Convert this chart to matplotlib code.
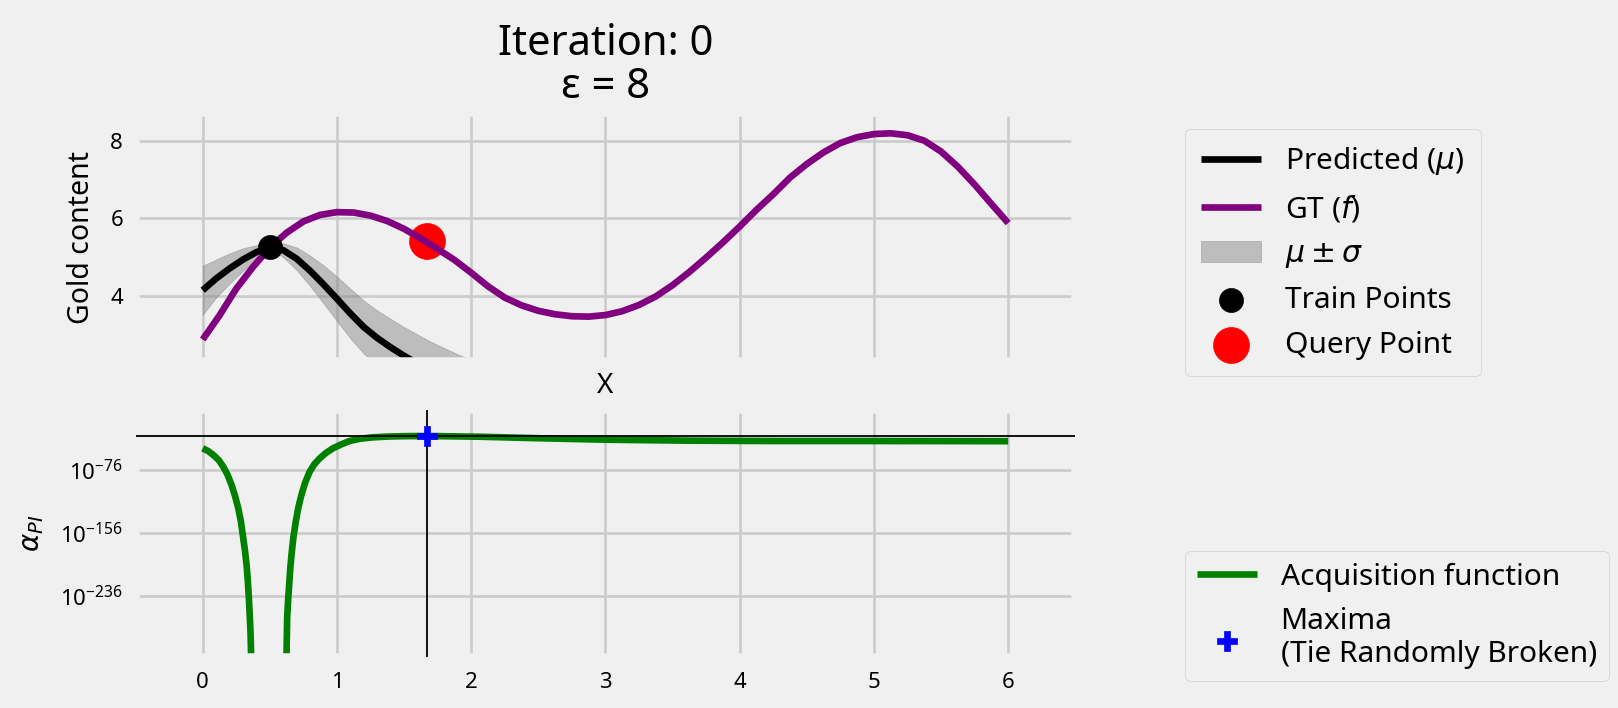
import numpy as np
import matplotlib.pyplot as plt
from matplotlib.ticker import NullLocator

plt.style.use('fivethirtyeight')
plt.rcParams['font.family'] = ['Noto Sans', 'DejaVu Sans']
plt.rcParams['axes.linewidth'] = 5.4
plt.rcParams['grid.linewidth'] = 1.9

gt_x = [0.0, 0.125, 0.25, 0.375, 0.5, 0.625, 0.75, 0.875, 1.0, 1.125, 1.25, 1.375, 1.5,
        1.625, 1.75, 1.875, 2.0, 2.125, 2.25, 2.375, 2.5, 2.625, 2.75, 2.875, 3.0, 3.125,
        3.25, 3.375, 3.5, 3.625, 3.75, 3.875, 4.0, 4.125, 4.25, 4.375, 4.5, 4.625, 4.75,
        4.875, 5.0, 5.125, 5.25, 5.375, 5.5, 5.625, 5.75, 5.875, 6.0]
gt_y = [2.88, 3.50, 4.19, 4.75, 5.25, 5.63, 5.92, 6.09, 6.16, 6.15, 6.07, 5.93, 5.73,
        5.48, 5.21, 4.93, 4.60, 4.25, 3.96, 3.76, 3.62, 3.53, 3.48, 3.47, 3.51, 3.61,
        3.77, 3.99, 4.28, 4.62, 4.99, 5.38, 5.79, 6.22, 6.62, 7.05, 7.40, 7.70, 7.94,
        8.09, 8.17, 8.19, 8.14, 8.00, 7.72, 7.33, 6.87, 6.37, 5.88]

# GP prediction (mu) and its standard deviation (sigma)
mu_x = [0.0, 0.1, 0.2, 0.3, 0.4, 0.5, 0.6, 0.7, 0.8, 0.9, 1.0, 1.1, 1.2, 1.3, 1.4, 1.5,
        1.6, 1.7, 1.8, 1.9, 2.0]
mu_y = [4.15, 4.45, 4.71, 4.94, 5.13, 5.25, 5.18, 4.96, 4.65, 4.30, 3.93, 3.55, 3.20,
        2.92, 2.68, 2.46, 2.26, 2.07, 1.90, 1.74, 1.60]
sigma = [0.63, 0.49, 0.39, 0.29, 0.18, 0.02, 0.18, 0.29, 0.39, 0.49, 0.57, 0.64, 0.68,
         0.71, 0.73, 0.74, 0.75, 0.75, 0.76, 0.76, 0.76]

train_x = [0.5]
train_y = [5.25]
query_x = [1.668]
query_y = [5.42]

# acquisition function (probability of improvement), 0 where it underflows
acq_x = [0.0, 0.04, 0.079, 0.12, 0.153, 0.185, 0.215, 0.24, 0.265, 0.285, 0.302, 0.315,
         0.327, 0.336, 0.344, 0.350, 0.356, 0.36, 0.37, 0.50, 0.615, 0.624, 0.629, 0.636,
         0.644, 0.652, 0.661, 0.676, 0.693, 0.712, 0.735, 0.763, 0.797, 0.83, 0.871, 0.92,
         0.97, 1.03, 1.094, 1.17, 1.267, 1.38, 1.515, 1.668, 2.06, 2.5, 3.0, 3.6, 4.29,
         5.0, 6.0]
acq_y = [4e-49, 1.6e-52, 1.3e-57, 3e-64, 1.6e-72, 1e-82, 8e-96, 3e-109, 1.6e-125, 1e-142,
         1e-163, 1e-179, 1e-197, 1e-217, 4e-240, 1e-260, 1.3e-282, 1e-308, 0.0, 0.0,
         0.0, 1e-313, 1e-265, 1e-242, 4e-223, 1e-202, 6e-185, 1e-161, 1.6e-142, 1e-124,
         1.6e-108, 1e-92, 8e-79, 1e-69, 6e-62, 1e-54, 4e-49, 3e-44, 8e-40, 6e-37, 4e-35,
         4e-34, 1.3e-33, 2e-33, 2.5e-34, 3e-36, 4e-38, 2.5e-39, 8e-40, 8e-40, 5e-40]
max_x = 1.668
max_y = 2e-33

fig = plt.figure(figsize=(16.18, 7.08), dpi=100)
ax1 = fig.add_axes([0.0838, 0.4908, 0.5808, 0.3489])
ax2 = fig.add_axes([0.0838, 0.0725, 0.5808, 0.3484])

band_lo = np.array(mu_y) - np.array(sigma)
band_hi = np.array(mu_y) + np.array(sigma)

ax1.plot(mu_x, mu_y, color='black', lw=4.8, label=r'Predicted ($\mu$)')
ax1.plot(gt_x, gt_y, color='purple', lw=4.8, label=r'GT ($f$)', zorder=3)
ax1.fill_between(mu_x, band_lo, band_hi, color='gray', alpha=0.45, lw=0.6,
                 label=r'$\mu \pm \sigma$')
ax1.scatter(train_x, train_y, s=300, color='black', zorder=5, label='Train Points')
ax1.scatter(query_x, query_y, s=670, color='red', zorder=2.5, label='Query Point')

ax1.set_xlim(-0.5, 6.5)
ax1.set_ylim(2.34, 8.70)
ax1.set_xticks(range(7))
ax1.set_yticks([4, 6, 8])
ax1.tick_params(labelbottom=False, labelsize=16, pad=9)
ax1.set_xlabel('X', fontsize=20, labelpad=8)
ax1.set_ylabel('Gold content', fontsize=20.5, labelpad=10)
ax1.set_title('Iteration: 0\nε = 8', fontsize=30, pad=11, linespacing=1.05)
ax1.legend(loc='upper left', bbox_to_anchor=(1185 / 1618, 1 - 129 / 708),
           bbox_transform=fig.transFigure, borderaxespad=0, fontsize=21.5,
           borderpad=0.55, labelspacing=0.53,
           facecolor='#f0f0f0', edgecolor='#d0d0d0', framealpha=1, scatterpoints=1)

ax2.plot(acq_x, acq_y, color='green', lw=4.8, label='Acquisition function')
ax2.set_yscale('log')
ax2.axvline(max_x, color='black', lw=1.3, zorder=3)
ax2.axhline(max_y, color='black', lw=1.3, zorder=3)
ax2.scatter([max_x], [max_y], marker='P', s=190, color='blue', zorder=5,
            label='Maxima\n(Tie Randomly Broken)')
ax2.set_xlim(-0.5, 6.5)
ax2.set_ylim(10 ** -313.6, 10 ** 0.4)
ax2.set_xticks(range(7))
ax2.set_yticks([1e-236, 1e-156, 1e-76])
ax2.yaxis.set_minor_locator(NullLocator())
ax2.tick_params(labelsize=16)
ax2.tick_params(axis='x', pad=11)
ax2.tick_params(axis='y', pad=9)
ax2.set_ylabel(r'$\alpha_{PI}$', fontsize=20, labelpad=10)
ax2.legend(loc='lower left', bbox_to_anchor=(1185 / 1618, 1 - 681 / 708),
           bbox_transform=fig.transFigure, borderaxespad=0, fontsize=21.5,
           facecolor='#f0f0f0', edgecolor='#d0d0d0', framealpha=1, scatterpoints=1)

fig.savefig('out.png', dpi=100, facecolor=fig.get_facecolor())
